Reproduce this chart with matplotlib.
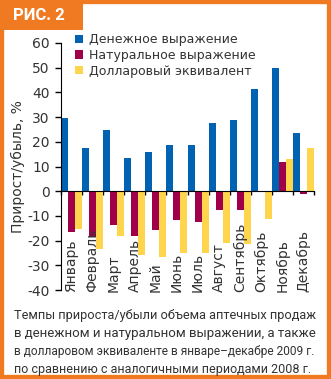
import matplotlib.pyplot as plt
from matplotlib.patches import Rectangle
import numpy as np

plt.rcParams['font.family'] = ['DejaVu Sans']
plt.rcParams['axes.unicode_minus'] = False

months = ['Январь', 'Февраль', 'Март', 'Апрель', 'Май', 'Июнь',
          'Июль', 'Август', 'Сентябрь', 'Октябрь', 'Ноябрь', 'Декабрь']
money = [29.5, 17.6, 24.8, 13.3, 15.7, 18.8, 18.8, 27.8, 28.9, 41.4, 49.8, 23.5]
natural = [-16.5, -18.5, -13.8, -18.0, -15.7, -11.8, -12.5, -7.5, -7.5, -0.5, 12.0, -1.0]
dollar = [-15.3, -23.2, -18.3, -26.0, -26.5, -25.0, -25.0, -20.8, -21.5, -11.3, 13.0, 17.3]
series_names = ['Денежное выражение', 'Натуральное выражение', 'Долларовый эквивалент']
yticks = [-40, -30, -20, -10, 0, 10, 20, 30, 40, 50, 60]
caption = ['Темпы прироста/убыли объема аптечных продаж',
           'в денежном и натуральном выражении, а также',
           'в долларовом эквиваленте в январе–декабре 2009 г.',
           'по сравнению с аналогичными периодами 2008 г.']

blue = '#0062b0'
red = '#a0004a'
yellow = '#ffd54d'
orange = '#f07a22'
txt = '#333333'

W, H = 331, 379
fig = plt.figure(figsize=(W / 100, H / 100), dpi=100)

# orange frame and tab
fig.patches.append(Rectangle((0, 0), 1, 1, transform=fig.transFigure,
                             fill=False, edgecolor=orange, linewidth=6))
fig.patches.append(Rectangle((0, 1 - 30 / H), 83 / W, 30 / H, transform=fig.transFigure,
                             facecolor=orange, edgecolor='none'))
fig.text(13 / W, 1 - 15 / H, 'РИС. 2', color='white', fontsize=12,
         fontweight='bold', ha='left', va='center', family='Roboto')

ax = fig.add_axes([61 / W, 1 - 290 / H, 253 / W, 247 / H])
x = np.arange(len(months))
w = 1 / 3
ax.bar(x + w / 2, money, w, color=blue, label=series_names[0], zorder=2)
ax.bar(x + 3 * w / 2, natural, w, color=red, label=series_names[1], zorder=2)
ax.bar(x + 5 * w / 2, dollar, w, color=yellow, label=series_names[2], zorder=2)

ax.set_xlim(0, 12)
ax.set_ylim(-40, 60)
ax.set_yticks(yticks)
ax.set_xticks(np.arange(13))
ax.set_xticklabels([])
ax.tick_params(axis='y', direction='out', length=4, width=1, pad=4,
               labelsize=10, labelcolor=txt)
ax.tick_params(axis='x', direction='out', length=3, width=1)
for s in ['top', 'right']:
    ax.spines[s].set_visible(False)
ax.spines['bottom'].set_position(('data', 0))
ax.spines['bottom'].set_zorder(3)

for i, m in enumerate(months):
    ax.text(i + 0.5, -40.8, m, rotation=90, ha='center', va='bottom',
            fontsize=10, color=txt, zorder=4, clip_on=False)

ax.set_ylabel('Прирост/убыль, %', fontsize=10, color=txt, labelpad=2)

ax.legend(loc='upper left', bbox_to_anchor=(0.035, 1.06), frameon=False,
          fontsize=9, handlelength=0.65, handleheight=0.65, handletextpad=0.45,
          labelspacing=0.22, borderaxespad=0, labelcolor=txt)

# caption: each line sized so it fills the column width
fig.canvas.draw()
r = fig.canvas.get_renderer()
x0 = 14
targets = [303, 303, 303, 296]
ys = [315, 333, 351, 369]
for line, tw, yy in zip(caption, targets, ys):
    t = fig.text(x0 / W, 1 - yy / H, line, fontsize=10, color=txt,
                 ha='left', va='center', family='Roboto')
    full = t.get_window_extent(r).width
    t.set_fontsize(10 * tw / full)

fig.savefig('out.png', dpi=100)
